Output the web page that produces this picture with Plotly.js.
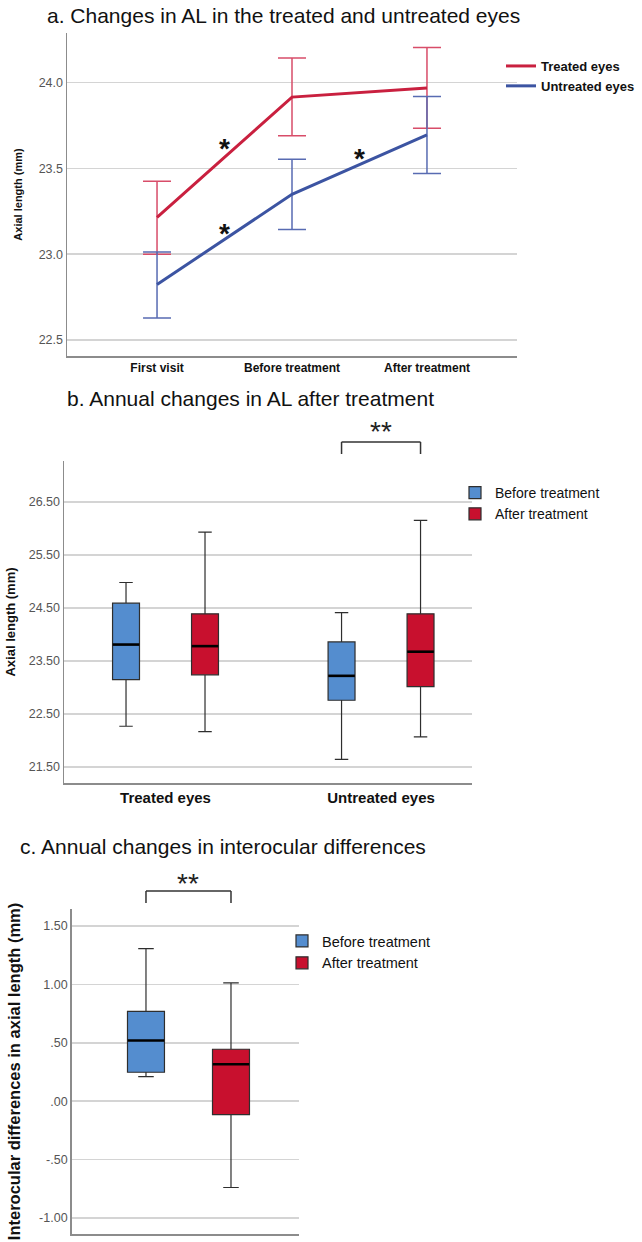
<!DOCTYPE html>
<html><head><meta charset="utf-8">
<script src="https://cdn.plot.ly/plotly-3.0.1.min.js"></script>
<style>html,body{margin:0;padding:0;background:#fff;} #chart{width:642px;height:1242px;}</style>
</head><body><div id="chart"></div>
<script>
// ---------- Panel a: mean axial length with 95% CI ----------
const visits = ['First visit', 'Before treatment', 'After treatment'];
const treatedMean  = [23.215, 23.916, 23.969];
const treatedUpper = [23.425, 24.144, 24.206];
const treatedLower = [23.000, 23.690, 23.735];
const untreatedMean  = [22.823, 23.349, 23.696];
const untreatedUpper = [23.013, 23.554, 23.920];
const untreatedLower = [22.627, 23.144, 23.470];
const aTickVals = [22.5, 23.0, 23.5, 24.0];
const aTickText = ['22.5', '23.0', '23.5', '24.0'];
// significance stars (x = position between visits, y = level)
const aStarX = [0.5, 0.5, 1.5];
const aStarY = [23.637, 23.146, 23.58];

// ---------- Panel b: annual AL boxplots ----------
const eyeGroups = ['Treated eyes', 'Untreated eyes'];
const bBeforeQ1 = [23.15, 22.76];
const bBeforeMed = [23.81, 23.22];
const bBeforeQ3 = [24.59, 23.86];
const bBeforeLow = [22.27, 21.645];
const bBeforeHigh = [24.98, 24.41];
const bAfterQ1 = [23.24, 23.015];
const bAfterMed = [23.78, 23.675];
const bAfterQ3 = [24.39, 24.39];
const bAfterLow = [22.17, 22.07];
const bAfterHigh = [25.93, 26.15];
const bTickVals = [21.5, 22.5, 23.5, 24.5, 25.5, 26.5];

// ---------- Panel c: interocular differences ----------
const periods = ['Before treatment', 'After treatment'];
const cQ1 = [0.248, -0.114];
const cMed = [0.52, 0.317];
const cQ3 = [0.77, 0.445];
const cLow = [0.211, -0.739];
const cHigh = [1.307, 1.013];
const cTickVals = [-1.0, -0.5, 0.0, 0.5, 1.0, 1.5];
const cTickText = ['-1.00', '-.50', '.00', '.50', '1.00', '1.50'];

// ---------- styling ----------
const W = 642, H = 1242;
const FONT = 'Liberation Sans, Arial, Helvetica, sans-serif';
const redLine = '#c9203f', blueLine = '#3c54a2';
const redErr = '#d84d69', blueErr = '#586bb2';
const beforeFill = '#548dcf', afterFill = '#c8102e';
const gridC = '#d4d4d4', axisC = '#8c8c8c', tickC = '#555555';
const px = v => v / W;
const py = v => 1 - v / H;
const frac = (v, r) => (v - r[0]) / (r[1] - r[0]);

const aXRange = [-0.667, 2.667], aYRange = [22.406, 24.29];
const bXRange = [-0.471, 1.422], bYRange = [21.2, 27.27];
const cXRange = [-0.875, 1.8],   cYRange = [-1.137, 1.646];
const boxgap = 0.267, boxgroupgap = 0.659;
const bOff = 0.25 * (1 - boxgap);
const eyeIdx = eyeGroups.map((_, i) => i);

const errArr = (up, m) => up.map((u, i) => u - m[i]);
const errMinus = (lo, m) => lo.map((l, i) => m[i] - l);
const boxLine = {color: '#2e2e2e', width: 1.2};
const medianMarker = (sz) => ({symbol: 'line-ew', size: sz, color: '#000', line: {color: '#000', width: 2.6}});

const traces = [
  {type: 'scatter', mode: 'lines', name: 'Treated eyes', x: visits, y: treatedMean,
   xaxis: 'x', yaxis: 'y', legend: 'legend',
   line: {color: redLine, width: 3},
   error_y: {type: 'data', symmetric: false, array: errArr(treatedUpper, treatedMean),
             arrayminus: errMinus(treatedLower, treatedMean), color: redErr, thickness: 1.5, width: 14}},
  {type: 'scatter', mode: 'lines', name: 'Untreated eyes', x: visits, y: untreatedMean,
   xaxis: 'x', yaxis: 'y', legend: 'legend',
   line: {color: blueLine, width: 3},
   error_y: {type: 'data', symmetric: false, array: errArr(untreatedUpper, untreatedMean),
             arrayminus: errMinus(untreatedLower, untreatedMean), color: blueErr, thickness: 1.5, width: 14}},
  {type: 'box', name: 'Before treatment', x: eyeIdx, q1: bBeforeQ1, median: bBeforeMed, q3: bBeforeQ3,
   lowerfence: bBeforeLow, upperfence: bBeforeHigh, xaxis: 'x2', yaxis: 'y2', legend: 'legend2',
   offsetgroup: 'before', alignmentgroup: 'b', fillcolor: beforeFill, whiskerwidth: 0.5,
   line: boxLine, boxpoints: false},
  {type: 'box', name: 'After treatment', x: eyeIdx, q1: bAfterQ1, median: bAfterMed, q3: bAfterQ3,
   lowerfence: bAfterLow, upperfence: bAfterHigh, xaxis: 'x2', yaxis: 'y2', legend: 'legend2',
   offsetgroup: 'after', alignmentgroup: 'b', fillcolor: afterFill, whiskerwidth: 0.5,
   line: boxLine, boxpoints: false},
  // thick black median lines (SPSS style)
  {type: 'scatter', mode: 'markers', x: eyeIdx.map(i => i - bOff), y: bBeforeMed, xaxis: 'x2', yaxis: 'y2',
   showlegend: false, marker: medianMarker(19)},
  {type: 'scatter', mode: 'markers', x: eyeIdx.map(i => i + bOff), y: bAfterMed, xaxis: 'x2', yaxis: 'y2',
   showlegend: false, marker: medianMarker(19)}
];
periods.forEach((p, i) => {
  traces.push({type: 'box', name: p, x: [p], q1: [cQ1[i]], median: [cMed[i]], q3: [cQ3[i]],
    lowerfence: [cLow[i]], upperfence: [cHigh[i]], xaxis: 'x3', yaxis: 'y3', legend: 'legend3',
    width: 0.435, fillcolor: i === 0 ? beforeFill : afterFill, whiskerwidth: 0.42,
    line: boxLine, boxpoints: false});
});
traces.push({type: 'scatter', mode: 'markers', x: periods, y: cMed, xaxis: 'x3', yaxis: 'y3',
  showlegend: false, marker: medianMarker(26)});

const yBase = (range, tv, extra) => Object.assign({
  range: range, tickvals: tv, showgrid: true, gridcolor: gridC, gridwidth: 1.5,
  showline: true, linecolor: axisC, linewidth: 1.5, zeroline: false, ticks: '',
  tickfont: {family: FONT, size: 12.5, color: tickC}, automargin: false, fixedrange: true
}, extra);
const xBase = (range, extra) => Object.assign({
  range: range, type: 'category', showgrid: false, showline: true, linecolor: axisC, linewidth: 1.5,
  zeroline: false, ticks: '', automargin: false, fixedrange: true,
  tickfont: {family: FONT, size: 12, color: '#111', weight: 'bold'}
}, extra);

const annotations = [];
aStarX.forEach((x, i) => annotations.push({xref: 'x', yref: 'y', x: x, y: aStarY[i], text: '*',
  showarrow: false, yanchor: 'middle', yshift: -4, font: {family: FONT, size: 28, color: '#111', weight: 'bold'}}));
annotations.push({xref: 'paper', yref: 'paper', x: px(65), y: py(398), xanchor: 'left', yanchor: 'middle',
  text: 'b. Annual changes in AL after treatment', showarrow: false, font: {family: FONT, size: 21, color: '#111'}});
annotations.push({xref: 'paper', yref: 'paper', x: px(18), y: py(846), xanchor: 'left', yanchor: 'middle',
  text: 'c. Annual changes in interocular differences', showarrow: false, font: {family: FONT, size: 21, color: '#111'}});
annotations.push({xref: 'x2 domain', yref: 'y2 domain', x: frac(1, bXRange), y: 1.1025, text: '**',
  showarrow: false, xanchor: 'center', yanchor: 'middle', yshift: -4, font: {family: FONT, size: 28, color: '#222'}});
annotations.push({xref: 'x3 domain', yref: 'y3 domain', x: frac(0.5, cXRange), y: 1.0923, text: '**',
  showarrow: false, xanchor: 'center', yanchor: 'middle', yshift: -4, font: {family: FONT, size: 28, color: '#222'}});

const bracket = (xr, yr, xa, xb, yTop, yBot, range) => {
  const x0 = frac(xa, range), x1 = frac(xb, range);
  const st = {type: 'line', xref: xr, yref: yr, line: {color: '#333', width: 1.5}};
  return [
    Object.assign({x0: x0, x1: x0, y0: yBot, y1: yTop}, st),
    Object.assign({x0: x0, x1: x1, y0: yTop, y1: yTop}, st),
    Object.assign({x0: x1, x1: x1, y0: yTop, y1: yBot}, st)
  ];
};
const shapes = [].concat(
  bracket('x2 domain', 'y2 domain', 1 - bOff, 1 + bOff, 1.059, 1.0217, bXRange),
  bracket('x3 domain', 'y3 domain', 0, 1, 1.0554, 1.0185, cXRange)
);

const layout = {
  width: W, height: H, margin: {l: 0, r: 0, t: 0, b: 0},
  paper_bgcolor: '#fff', plot_bgcolor: '#fff',
  font: {family: FONT, color: '#111'},
  title: {text: 'a. Changes in AL in the treated and untreated eyes', x: px(47), xanchor: 'left', xref: 'paper',
          y: py(16), yref: 'paper', yanchor: 'middle', font: {family: FONT, size: 21, color: '#111'}},
  boxmode: 'group', boxgap: boxgap, boxgroupgap: boxgroupgap,
  xaxis: xBase(aXRange, {domain: [px(67), px(517)], anchor: 'y'}),
  yaxis: yBase(aYRange, aTickVals, {domain: [py(356), py(33)], anchor: 'x', ticktext: aTickText,
          title: {text: 'Axial length (mm)', standoff: 14, font: {family: FONT, size: 11, color: '#111', weight: 'bold'}}}),
  xaxis2: xBase(bXRange, {type: 'linear', tickvals: eyeIdx, ticktext: eyeGroups,
          domain: [px(64), px(472)], anchor: 'y2',
          tickfont: {family: FONT, size: 15, color: '#111', weight: 'bold'}}),
  yaxis2: yBase(bYRange, bTickVals, {domain: [py(783), py(461)], anchor: 'x2', tickformat: '.2f',
          title: {text: 'Axial length (mm)', standoff: 10, font: {family: FONT, size: 13, color: '#111', weight: 'bold'}}}),
  xaxis3: xBase(cXRange, {domain: [px(71.6), px(299)], anchor: 'y3', showticklabels: false}),
  yaxis3: yBase(cYRange, cTickVals, {domain: [py(1234), py(909)], anchor: 'x3', ticktext: cTickText,
          title: {text: 'Interocular differences in axial length (mm)', standoff: 14,
                  font: {family: FONT, size: 16.5, color: '#111', weight: 'bold'}}}),
  legend: {x: px(501), xanchor: 'left', y: py(51), yanchor: 'top', bgcolor: 'rgba(0,0,0,0)',
           font: {family: FONT, size: 13, color: '#111', weight: 'bold'}},
  legend2: {x: px(455), xanchor: 'left', y: py(477), yanchor: 'top', bgcolor: 'rgba(0,0,0,0)',
           font: {family: FONT, size: 14, color: '#111'}},
  legend3: {x: px(282), xanchor: 'left', y: py(925), yanchor: 'top', bgcolor: 'rgba(0,0,0,0)',
           font: {family: FONT, size: 14.5, color: '#111'}},
  annotations: annotations,
  shapes: shapes,
  hovermode: false
};

Plotly.newPlot('chart', traces, layout, {staticPlot: true, displayModeBar: false});
</script></body></html>
